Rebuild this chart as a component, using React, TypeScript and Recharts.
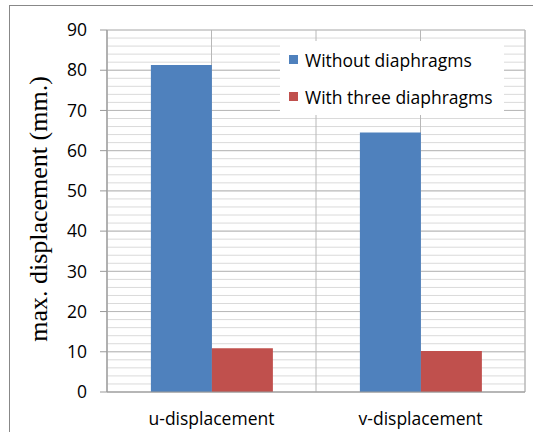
import { BarChart, Bar, XAxis, YAxis, CartesianGrid } from 'recharts';

const categories = ['u-displacement', 'v-displacement'];
const withoutDiaphragms = [81.3, 64.5];
const withThreeDiaphragms = [10.9, 10.2];
const majorTicks = [0, 10, 20, 30, 40, 50, 60, 70, 80, 90];
const minorTicks = [0, 2, 4, 6, 8, 10, 12, 14, 16, 18, 20, 22, 24, 26, 28, 30, 32, 34, 36, 38, 40, 42, 44, 46, 48, 50, 52, 54, 56, 58, 60, 62, 64, 66, 68, 70, 72, 74, 76, 78, 80, 82, 84, 86, 88, 90];
const edgeTicks = [0, 1, 2];

const data = categories.map((name, i) => ({
  name,
  without: withoutDiaphragms[i],
  three: withThreeDiaphragms[i],
}));

const series = [
  { key: 'without', label: 'Without diaphragms', color: '#4f81bd' },
  { key: 'three', label: 'With three diaphragms', color: '#c0504d' },
];

const sans = '"Open Sans", sans-serif';

// vertical lines on the category boundaries
const edgeLines = ({ offset }: any) =>
  edgeTicks.map((t) => offset.left + (offset.width * t) / categories.length);

function LegendBox() {
  return (
    <div style={{ position: 'absolute', left: 280, top: 41, width: 215, background: '#fff', padding: '0 0 0 9px' }}>
      {series.map((s) => (
        <div key={s.key} style={{ display: 'flex', alignItems: 'center', height: 37 }}>
          <div style={{ width: 9, height: 9, background: s.color, marginRight: 7 }} />
          <span style={{ fontFamily: sans, fontSize: 17.5, color: '#000' }}>{s.label}</span>
        </div>
      ))}
    </div>
  );
}

export default function App() {
  return (
    <div style={{ position: 'absolute', left: 0, top: 0, width: 533, height: 432, overflow: 'hidden', background: '#fff' }}>
      <div style={{ position: 'absolute', left: 9, top: 5, width: 600, height: 1, background: '#888' }} />
      <div style={{ position: 'absolute', left: 9, top: 5, width: 1, height: 500, background: '#888' }} />
      <div style={{ position: 'absolute', left: 0, top: 0 }}>
        <BarChart
          width={533}
          height={432}
          data={data}
          margin={{ top: 30, right: 8, left: 0, bottom: 0 }}
          barCategoryGap="21%"
          barGap={0}
        >
          <CartesianGrid xAxisId="b_cat" yAxisId="b_main" horizontalValues={minorTicks} vertical={false} stroke="#dadada" />
          <CartesianGrid xAxisId="b_cat" yAxisId="b_main" horizontal={false} verticalCoordinatesGenerator={edgeLines} stroke="#b8b8b8" />
          <CartesianGrid xAxisId="b_cat" yAxisId="b_main" stroke="#b8b8b8" />
          <XAxis
            xAxisId="a_edge"
            type="number"
            domain={[0, 2]}
            allowDataOverflow
            ticks={edgeTicks}
            interval={0}
            tick={false}
            tickSize={5}
            height={6}
            stroke="#999"
          />
          <XAxis
            xAxisId="b_cat"
            dataKey="name"
            axisLine={false}
            tickLine={false}
            height={34}
            dy={7}
            tick={{ fontFamily: sans, fontSize: 17.5, fill: '#000' }}
          />
          <YAxis
            yAxisId="b_main"
            width={107}
            domain={[0, 90]}
            ticks={majorTicks}
            interval={0}
            tickSize={7}
            tickMargin={13}
            stroke="#999"
            tick={{ fontFamily: sans, fontSize: 17.5, fill: '#000' }}
            label={({ viewBox }: any) => (
              <text
                x={viewBox.x + 38}
                y={viewBox.y + viewBox.height / 2 - 2}
                transform={`rotate(-90 ${viewBox.x + 38} ${viewBox.y + viewBox.height / 2 - 2})`}
                textAnchor="middle"
                dominantBaseline="central"
                style={{ fontFamily: '"Liberation Serif", serif', fontSize: 26, fill: '#000' }}
              >
                max. displacement (mm.)
              </text>
            )}
          />
          {series.map((s) => (
            <Bar
              key={s.key}
              xAxisId="b_cat"
              yAxisId="b_main"
              dataKey={s.key}
              fill={s.color}
              isAnimationActive={false}
            />
          ))}
        </BarChart>
      </div>
      <LegendBox />
    </div>
  );
}
